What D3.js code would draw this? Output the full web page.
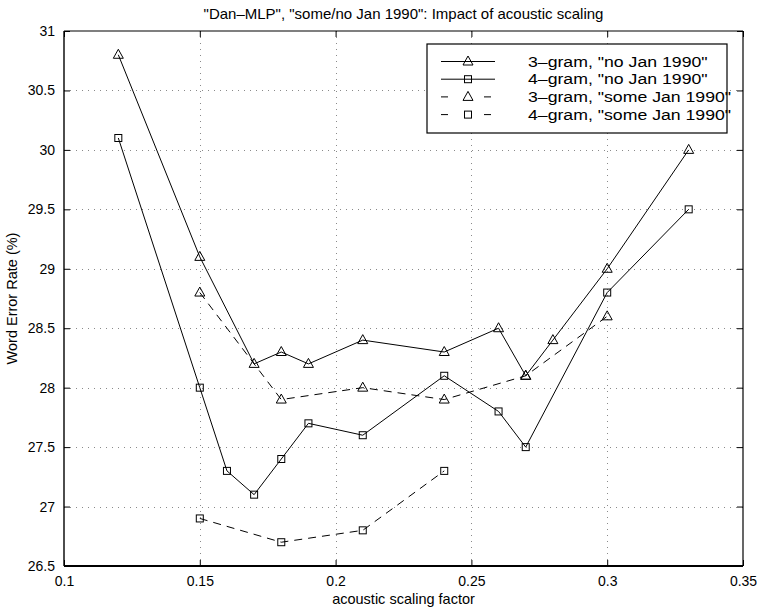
<!DOCTYPE html>
<html><head><meta charset="utf-8">
<script src="https://cdn.jsdelivr.net/npm/d3@7"></script>
<style>body{margin:0;background:#fff} svg{display:block} text{font-family:"Liberation Sans",Arial,Helvetica,sans-serif;fill:#000}</style>
</head><body><svg id="c" width="757" height="610"></svg>
<script>
const title = '"Dan–MLP", "some/no Jan 1990": Impact of acoustic scaling';
const xLabel = 'acoustic scaling factor';
const yLabel = 'Word Error Rate (%)';
const xTicks = [0.1, 0.15, 0.2, 0.25, 0.3, 0.35];
const xTickLabels = ['0.1', '0.15', '0.2', '0.25', '0.3', '0.35'];
const yTicks = [26.5, 27, 27.5, 28, 28.5, 29, 29.5, 30, 30.5, 31];
const yTickLabels = ['26.5', '27', '27.5', '28', '28.5', '29', '29.5', '30', '30.5', '31'];

const tri3NoJanX = [0.12, 0.15, 0.17, 0.18, 0.19, 0.21, 0.24, 0.26, 0.27, 0.28, 0.30, 0.33];
const tri3NoJanY = [30.8, 29.1, 28.2, 28.3, 28.2, 28.4, 28.3, 28.5, 28.1, 28.4, 29.0, 30.0];
const sq4NoJanX = [0.12, 0.15, 0.16, 0.17, 0.18, 0.19, 0.21, 0.24, 0.26, 0.27, 0.30, 0.33];
const sq4NoJanY = [30.1, 28.0, 27.3, 27.1, 27.4, 27.7, 27.6, 28.1, 27.8, 27.5, 28.8, 29.5];
const tri3SomeX = [0.15, 0.18, 0.21, 0.24, 0.27, 0.30];
const tri3SomeY = [28.8, 27.9, 28.0, 27.9, 28.1, 28.6];
const sq4SomeX = [0.15, 0.18, 0.21, 0.24];
const sq4SomeY = [26.9, 26.7, 26.8, 27.3];
const seriesNames = ['3–gram, "no Jan 1990"', '4–gram, "no Jan 1990"', '3–gram, "some Jan 1990"', '4–gram, "some Jan 1990"'];
const seriesMarkers = ['tri', 'sq', 'tri', 'sq'];
const seriesDashed = [false, false, true, true];

const series = [
  {x: tri3NoJanX, y: tri3NoJanY},
  {x: sq4NoJanX, y: sq4NoJanY},
  {x: tri3SomeX, y: tri3SomeY},
  {x: sq4SomeX, y: sq4SomeY}
].map((s, i) => ({name: seriesNames[i], marker: seriesMarkers[i], dashed: seriesDashed[i],
  pts: s.x.map((v, j) => [v, s.y[j]])}));

const L = 64, R = 743, T = 31, B = 566;
const svg = d3.select('#c');
const x = d3.scaleLinear().domain([0.1, 0.35]).range([L, R]);
const y = d3.scaleLinear().domain([26.5, 31]).range([B, T]);

// grid
const grid = svg.append('g').attr('stroke', '#8a8a8a').attr('stroke-width', 1).attr('stroke-dasharray', '1,5');
grid.selectAll('.gx').data(xTicks.slice(1, -1)).enter().append('line')
  .attr('x1', d => Math.round(x(d)) + 0.5).attr('x2', d => Math.round(x(d)) + 0.5)
  .attr('y1', T).attr('y2', B);
grid.selectAll('.gy').data(yTicks.slice(1, -1)).enter().append('line')
  .attr('y1', d => Math.round(y(d)) + 0.5).attr('y2', d => Math.round(y(d)) + 0.5)
  .attr('x1', L).attr('x2', R);

// axes with inward ticks
const fmtX = (d, i) => xTickLabels[i];
const fmtY = (d, i) => yTickLabels[i];
const axB = svg.append('g').attr('transform', `translate(0,${B})`)
  .call(d3.axisBottom(x).tickValues(xTicks).tickFormat(fmtX).tickSizeInner(-6).tickSizeOuter(0).tickPadding(10));
const axL = svg.append('g').attr('transform', `translate(${L},0)`)
  .call(d3.axisLeft(y).tickValues(yTicks).tickFormat(fmtY).tickSizeInner(-6).tickSizeOuter(0).tickPadding(9));
const axT = svg.append('g').attr('transform', `translate(0,${T})`)
  .call(d3.axisTop(x).tickValues(xTicks).tickFormat('').tickSizeInner(-6).tickSizeOuter(0));
const axR = svg.append('g').attr('transform', `translate(${R},0)`)
  .call(d3.axisRight(y).tickValues(yTicks).tickFormat('').tickSizeInner(-6).tickSizeOuter(0));
[axB, axL, axT, axR].forEach(a => { a.select('.domain').remove(); a.selectAll('line').attr('stroke', '#000'); });
axB.selectAll('text').attr('font-size', 14).attr('font-family', '"Liberation Sans",Arial,sans-serif').attr('fill', '#000');
axL.selectAll('text').attr('font-size', 14).attr('font-family', '"Liberation Sans",Arial,sans-serif').attr('fill', '#000');

// frame
svg.append('line').attr('x1', L).attr('x2', R).attr('y1', B).attr('y2', B).attr('stroke', '#000').attr('stroke-width', 2);
svg.append('line').attr('x1', L).attr('x2', L).attr('y1', T).attr('y2', B).attr('stroke', '#000').attr('stroke-width', 1.4);
svg.append('line').attr('x1', L).attr('x2', R).attr('y1', T).attr('y2', T).attr('stroke', '#000').attr('stroke-width', 1.2);
svg.append('line').attr('x1', R).attr('x2', R).attr('y1', T).attr('y2', B).attr('stroke', '#000').attr('stroke-width', 1.2);

// markers
function marker(g, type, cx, cy) {
  if (type === 'tri') {
    g.append('path').attr('d', `M${cx},${cy - 5.5}L${cx + 5},${cy + 3.5}L${cx - 5},${cy + 3.5}Z`)
      .attr('fill', 'none').attr('stroke', '#000').attr('stroke-width', 1);
  } else {
    g.append('rect').attr('x', cx - 3.5).attr('y', cy - 3.5).attr('width', 7).attr('height', 7)
      .attr('fill', 'none').attr('stroke', '#000').attr('stroke-width', 1);
  }
}

const line = d3.line().x(d => x(d[0])).y(d => y(d[1]));
series.forEach(s => {
  const g = svg.append('g');
  g.append('path').attr('d', line(s.pts)).attr('fill', 'none').attr('stroke', '#000').attr('stroke-width', 1)
    .attr('stroke-dasharray', s.dashed ? '8,6' : null);
  s.pts.forEach(p => marker(g, s.marker, x(p[0]), y(p[1])));
});

// legend
const lg = svg.append('g');
lg.append('rect').attr('x', 427).attr('y', 44).attr('width', 300).attr('height', 89)
  .attr('fill', '#fff').attr('stroke', '#000').attr('stroke-width', 1.2);
series.forEach((s, i) => {
  const cy = 61.5 + i * 17.7;
  lg.append('line').attr('x1', 441).attr('x2', 495).attr('y1', cy).attr('y2', cy)
    .attr('stroke', '#000').attr('stroke-width', 1).attr('stroke-dasharray', s.dashed ? '7,36' : null);
  marker(lg, s.marker, 468, cy);
  lg.append('text').attr('transform', `translate(528,${cy}) scale(1.22,1)`).attr('dy', '0.36em')
    .attr('font-size', 14.5).text(s.name);
});

// titles
svg.append('text').attr('x', (L + R) / 2).attr('y', 19).attr('text-anchor', 'middle').attr('font-size', 15).text(title);
svg.append('text').attr('x', (L + R) / 2).attr('y', 604).attr('text-anchor', 'middle').attr('font-size', 14.5).text(xLabel);
svg.append('text').attr('transform', `translate(17,${(T + B) / 2}) rotate(-90)`).attr('text-anchor', 'middle').attr('font-size', 14.5).text(yLabel);
</script></body></html>
